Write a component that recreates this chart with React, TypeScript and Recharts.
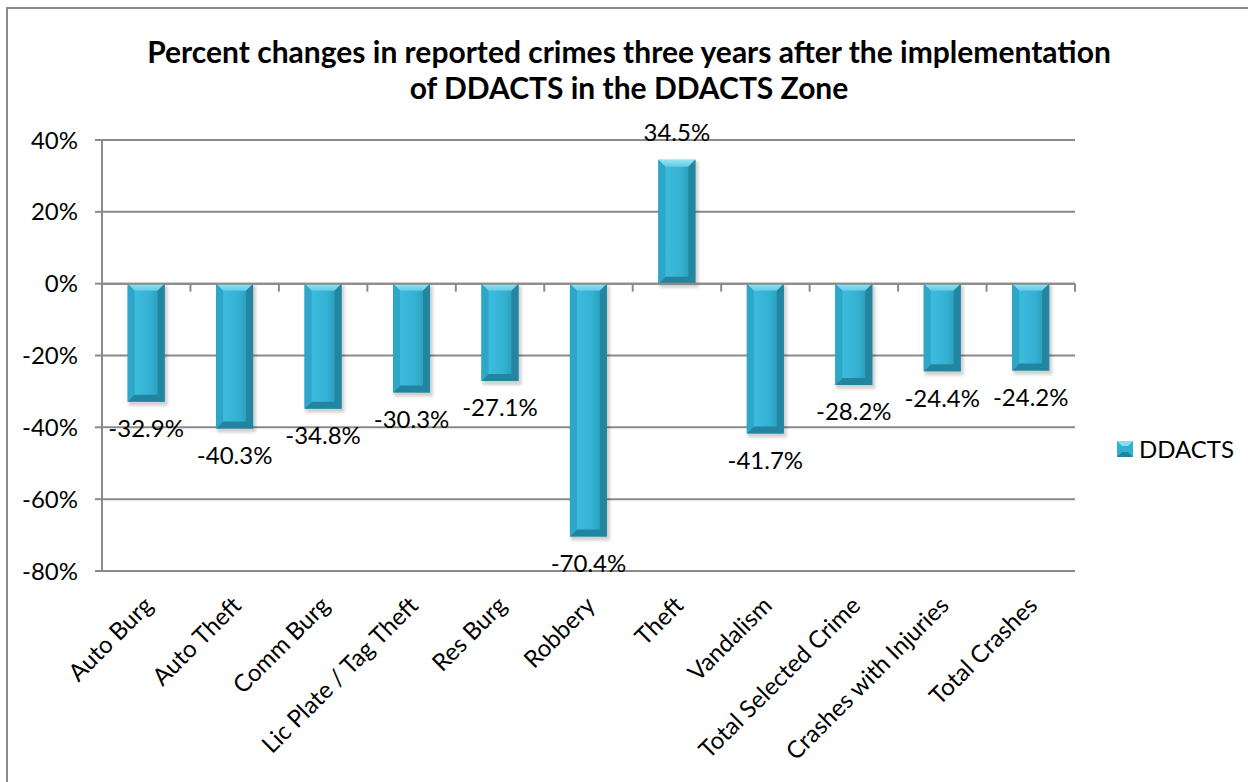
import React from 'react';
import { BarChart, Bar, XAxis, YAxis, CartesianGrid, LabelList, ReferenceLine } from 'recharts';

// categories and values
const categories = [
  'Auto Burg',
  'Auto Theft',
  'Comm Burg',
  'Lic Plate / Tag Theft',
  'Res Burg',
  'Robbery',
  'Theft',
  'Vandalism',
  'Total Selected Crime',
  'Crashes with Injuries',
  'Total Crashes',
];
const ddactsChange = [-32.9, -40.3, -34.8, -30.3, -27.1, -70.4, 34.5, -41.7, -28.2, -24.4, -24.2];
const yTicks = [-80, -60, -40, -20, 0, 20, 40];
const seriesName = 'DDACTS';

const chartTitle = [
  'Percent changes in reported crimes three years after the implementation',
  'of DDACTS in the DDACTS Zone',
];

const FONT = 'Lato, "Open Sans", sans-serif';
const GRID = '#8a8a8a';

const data = categories.map((name, i) => ({ name, DDACTS: ddactsChange[i] }));

// bevelled bar like the Excel style
const BevelBar = (props: any) => {
  const { x, y, width, height } = props;
  const top = Math.min(y, y + height);
  const h = Math.abs(height);
  const b = Math.min(7, h / 2, width / 2);
  const r = x + width;
  const bot = top + h;
  return (
    <g>
      <rect x={x + 1} y={top + 2} width={width + 2} height={h + 2} fill="#000" opacity={0.18} filter="url(#barShadow)" />
      <rect x={x} y={top} width={width} height={h} fill="url(#barFill)" />
      <polygon points={`${x},${top} ${r},${top} ${r - b},${top + b} ${x + b},${top + b}`} fill="url(#bevelTop)" />
      <polygon points={`${x},${bot} ${r},${bot} ${r - b},${bot - b} ${x + b},${bot - b}`} fill="#2384a0" />
      <polygon points={`${x},${top} ${x + b},${top + b} ${x + b},${bot - b} ${x},${bot}`} fill="#2ea6c7" />
      <polygon points={`${r},${top} ${r - b},${top + b} ${r - b},${bot - b} ${r},${bot}`} fill="#23859f" />
    </g>
  );
};

const ValueLabel = (props: any) => {
  const { x, y, width, height, value } = props;
  const end = value >= 0 ? Math.min(y, y + height) : Math.max(y, y + height);
  const cy = value >= 0 ? end - 27 : end + 27;
  return (
    <text x={x + width / 2} y={cy} dy="0.35em" textAnchor="middle" fontFamily={FONT} fontSize={24} fill="#000">
      {`${value.toFixed(1)}%`}
    </text>
  );
};

const CategoryTick = (props: any) => {
  const { x, y, payload } = props;
  const tx = x + 8;
  const ty = y + 28;
  return (
    <text
      x={tx}
      y={ty}
      transform={`rotate(-45 ${tx} ${ty})`}
      textAnchor="end"
      fontFamily={FONT}
      fontSize={24}
      fill="#000"
    >
      {payload.value}
    </text>
  );
};

// zero line with the category tick marks hanging below it
const ZeroAxis = (props: any) => {
  const { x1, y1, x2, y2 } = props;
  const n = categories.length;
  const step = (x2 - x1) / n;
  return (
    <g>
      <line x1={x1} y1={y1} x2={x2} y2={y2} stroke={GRID} strokeWidth={2} />
      {Array.from({ length: n + 1 }, (_, i) => (
        <line key={i} x1={x1 + step * i} y1={y1} x2={x1 + step * i} y2={y1 + 8} stroke={GRID} strokeWidth={2} />
      ))}
    </g>
  );
};

const App: React.FC = () => {
  return (
    <div style={{ position: 'absolute', left: 0, top: 0, width: 1248, height: 782, overflow: 'hidden', background: '#fff' }}>
      <div
        style={{
          position: 'absolute',
          left: 6,
          top: 7,
          width: 1300,
          height: 900,
          borderLeft: '2px solid #8c8c8c',
          borderTop: '2px solid #8c8c8c',
        }}
      />
      <div
        style={{
          position: 'absolute',
          left: 0,
          top: 33,
          width: 1258,
          textAlign: 'center',
          fontFamily: FONT,
          fontWeight: 'bold',
          fontSize: 30,
          lineHeight: '36px',
          color: '#000',
        }}
      >
        {chartTitle.map((t) => (
          <div key={t}>{t}</div>
        ))}
      </div>
      <div style={{ position: 'absolute', left: 0, top: 0 }}>
        <BarChart
          width={1248}
          height={782}
          data={data}
          margin={{ top: 140, right: 173, bottom: 61, left: 42 }}
          barCategoryGap="29%"
        >
          <defs>
            <linearGradient id="barFill" x1="0" y1="0" x2="1" y2="0">
              <stop offset="0%" stopColor="#2ba2c3" />
              <stop offset="20%" stopColor="#3dbbdc" />
              <stop offset="60%" stopColor="#35b2d3" />
              <stop offset="100%" stopColor="#2590ae" />
            </linearGradient>
            <linearGradient id="bevelTop" x1="0" y1="0" x2="0" y2="1">
              <stop offset="0%" stopColor="#9ae3f4" />
              <stop offset="100%" stopColor="#5fcbe6" />
            </linearGradient>
            <filter id="barShadow" x="-20%" y="-20%" width="140%" height="140%">
              <feGaussianBlur stdDeviation="1.5" />
            </filter>
          </defs>
          <CartesianGrid vertical={false} stroke={GRID} strokeWidth={2} />
          <XAxis
            dataKey="name"
            height={150}
            interval={0}
            axisLine={false}
            tickLine={false}
            tick={<CategoryTick />}
          />
          <YAxis
            width={60}
            domain={[-80, 40]}
            ticks={yTicks}
            interval={0}
            tickFormatter={(v: number) => `${v}%`}
            tick={{ fontFamily: FONT, fontSize: 24, fill: '#000' }}
            axisLine={{ stroke: GRID, strokeWidth: 2 }}
            tickLine={{ stroke: GRID, strokeWidth: 2 }}
            tickSize={7}
            tickMargin={17}
          />
          <ReferenceLine y={0} shape={<ZeroAxis />} />
          <Bar dataKey="DDACTS" isAnimationActive={false} shape={<BevelBar />}>
            <LabelList dataKey="DDACTS" content={<ValueLabel />} />
          </Bar>
        </BarChart>
      </div>
      <div
        style={{
          position: 'absolute',
          left: 1117,
          top: 434,
          display: 'flex',
          alignItems: 'center',
          fontFamily: FONT,
          fontSize: 24,
          color: '#000',
        }}
      >
        <svg width={16} height={16} style={{ marginRight: 6 }}>
          <rect x={0} y={0} width={16} height={16} fill="#33afd0" />
          <polygon points="0,0 16,0 11,5 5,5" fill="#8adcf0" />
          <polygon points="0,16 16,16 11,11 5,11" fill="#2384a0" />
        </svg>
        <span>{seriesName}</span>
      </div>
    </div>
  );
};

export default App;
